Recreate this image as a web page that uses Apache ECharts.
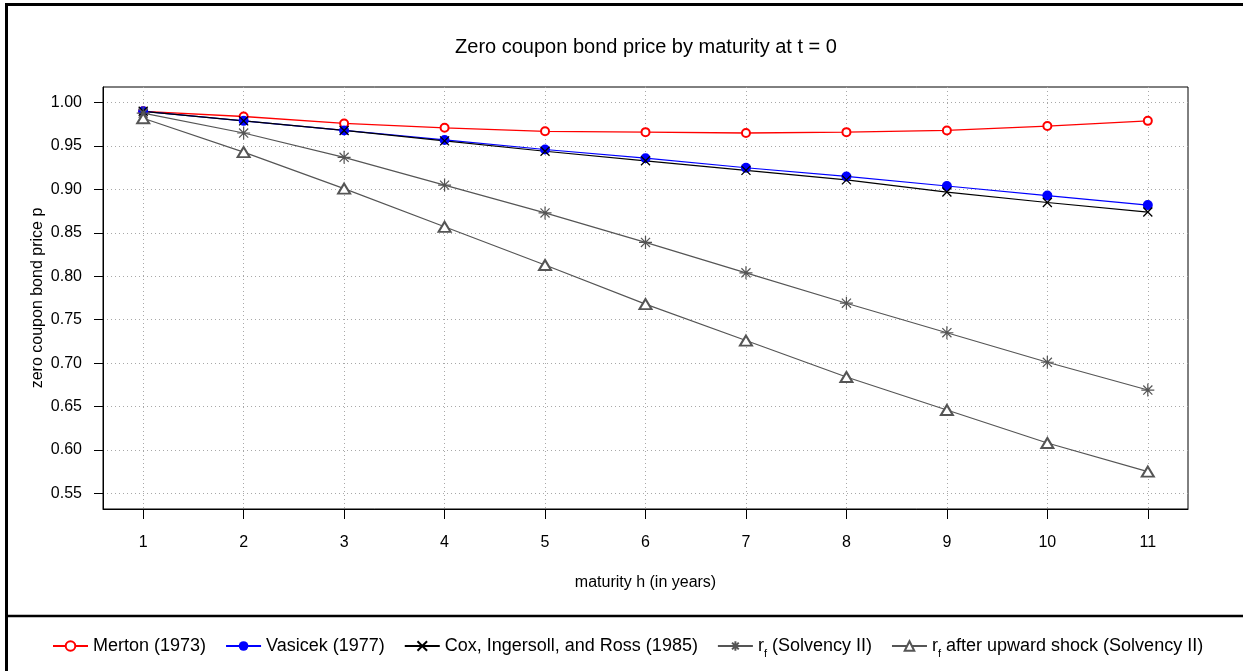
<!DOCTYPE html>
<html>
<head>
<meta charset="utf-8">
<script src="https://cdn.jsdelivr.net/npm/echarts@6/dist/echarts.min.js"></script>
<style>
html,body{margin:0;padding:0;background:#fff;}
#chart{width:1243px;height:671px;}
</style>
</head>
<body>
<div id="chart"></div>
<script>
// ---- data ----
var maturity = [1, 2, 3, 4, 5, 6, 7, 8, 9, 10, 11];
var merton   = [0.990, 0.984, 0.976, 0.971, 0.967, 0.966, 0.965, 0.966, 0.968, 0.973, 0.979];
var vasicek  = [0.990, 0.979, 0.968, 0.957, 0.946, 0.936, 0.925, 0.915, 0.904, 0.893, 0.882];
var cir      = [0.990, 0.979, 0.968, 0.956, 0.944, 0.933, 0.922, 0.911, 0.897, 0.885, 0.874];
var rfSolv   = [0.988, 0.965, 0.937, 0.905, 0.873, 0.839, 0.804, 0.769, 0.735, 0.701, 0.669];
var rfShock  = [0.982, 0.943, 0.901, 0.857, 0.813, 0.768, 0.726, 0.684, 0.646, 0.608, 0.575];
var xTicks   = [1, 2, 3, 4, 5, 6, 7, 8, 9, 10, 11];
var yTicks   = [0.55, 0.60, 0.65, 0.70, 0.75, 0.80, 0.85, 0.90, 0.95, 1.00];
var seriesNames = ['Merton (1973)', 'Vasicek (1977)', 'Cox, Ingersoll, and Ross (1985)',
                   'rf (Solvency II)', 'rf after upward shock (Solvency II)'];
var titleText = 'Zero coupon bond price by maturity at t = 0';
var xName = 'maturity h (in years)';
var yName = 'zero coupon bond price p';

function pairs(ys) { return maturity.map(function (x, i) { return [x, ys[i]]; }); }

var FONT = "'Liberation Sans', Arial, sans-serif";
var GRAY = '#555555';
var chart = echarts.init(document.getElementById('chart'), null, {renderer: 'canvas'});

var option = {
  backgroundColor: '#ffffff',
  animation: false,
  title: {
    text: titleText, left: 641, top: 32, textAlign: 'center',
    textStyle: {fontFamily: FONT, fontSize: 20, fontWeight: 'normal', color: '#000'}
  },
  grid: {left: 103, right: 55, top: 87, bottom: 162, show: true, borderColor: '#000', borderWidth: 1, containLabel: false},
  xAxis: {
    type: 'value', min: 0.6, max: 11.4,
    name: xName, nameLocation: 'middle', nameGap: 66, nameMoveOverlap: false,
    nameTextStyle: {fontFamily: FONT, fontSize: 16, color: '#000'},
    axisLine: {show: true, lineStyle: {color: '#000', width: 1}},
    axisTick: {show: true, inside: false, length: 10, lineStyle: {color: '#000'}, customValues: xTicks},
    axisLabel: {show: true, margin: 26, fontFamily: FONT, fontSize: 16, color: '#000', customValues: xTicks},
    splitLine: {show: true, lineStyle: {color: '#a8a8a8', type: [1, 3], width: 1}}
  },
  yAxis: {
    type: 'value', min: 0.532, max: 1.018,
    name: yName, nameLocation: 'middle', nameGap: 57, nameMoveOverlap: false,
    nameTextStyle: {fontFamily: FONT, fontSize: 16, color: '#000'},
    axisLine: {show: true, lineStyle: {color: '#000', width: 1}},
    axisTick: {show: true, inside: false, length: 9, lineStyle: {color: '#000'}, customValues: yTicks},
    axisLabel: {show: true, margin: 21, fontFamily: FONT, fontSize: 16, color: '#000', customValues: yTicks,
      formatter: function (v) { return v.toFixed(2); }},
    splitLine: {show: true, lineStyle: {color: '#a8a8a8', type: [1, 3], width: 1}}
  },
  legend: {
    left: 47, top: 632, itemWidth: 35, itemHeight: 12, itemGap: 19, selectedMode: false,
    data: seriesNames,
    formatter: function (name) {
      if (name.indexOf('rf') === 0) {
        return '{t|r}{s|f}{t|' + name.slice(2) + '}';
      }
      return '{t|' + name + '}';
    },
    textStyle: {
      fontFamily: FONT, fontSize: 18, color: '#000',
      rich: {
        t: {fontFamily: FONT, fontSize: 18, color: '#000'},
        s: {fontFamily: FONT, fontSize: 11, color: '#000', verticalAlign: 'bottom', padding: [0, 0, -4, 0]}
      }
    }
  },
  graphic: [
    {type: 'line', shape: {x1: 5, y1: 4.5, x2: 1243, y2: 4.5}, style: {stroke: '#000', lineWidth: 3}, silent: true},
    {type: 'line', shape: {x1: 6.5, y1: 3, x2: 6.5, y2: 671}, style: {stroke: '#000', lineWidth: 3}, silent: true},
    {type: 'line', shape: {x1: 5, y1: 616, x2: 1243, y2: 616}, style: {stroke: '#000', lineWidth: 2.5}, silent: true}
  ],
  series: [
    {
      name: seriesNames[0], type: 'line', data: pairs(merton),
      symbol: 'emptyCircle', symbolSize: 8,
      lineStyle: {color: '#ff0000', width: 1.3},
      itemStyle: {color: '#ff0000', borderColor: '#ff0000', borderWidth: 1.3}
    },
    {
      name: seriesNames[1], type: 'line', data: pairs(vasicek),
      symbol: 'circle', symbolSize: 10,
      lineStyle: {color: '#0000ff', width: 1.2},
      itemStyle: {color: '#0000ff'}
    },
    {
      name: seriesNames[2], type: 'line', data: pairs(cir),
      symbol: 'path://M0,0L10,10M10,0L0,10', symbolSize: 9,
      lineStyle: {color: '#000000', width: 1.2},
      itemStyle: {color: '#000000', borderColor: '#000000', borderWidth: 1.3}
    },
    {
      name: seriesNames[3], type: 'line', data: pairs(rfSolv),
      symbol: 'path://M5,0L5,10M0,5L10,5M1.5,1.5L8.5,8.5M8.5,1.5L1.5,8.5', symbolSize: 13,
      lineStyle: {color: GRAY, width: 1.2},
      itemStyle: {color: GRAY, borderColor: GRAY, borderWidth: 1.2}
    },
    {
      name: seriesNames[4], type: 'line', data: pairs(rfShock),
      symbol: 'emptyTriangle', symbolSize: [12, 10],
      lineStyle: {color: GRAY, width: 1.2},
      itemStyle: {color: GRAY, borderColor: GRAY, borderWidth: 1.2}
    }
  ]
};
chart.setOption(option);
</script>
</body>
</html>
